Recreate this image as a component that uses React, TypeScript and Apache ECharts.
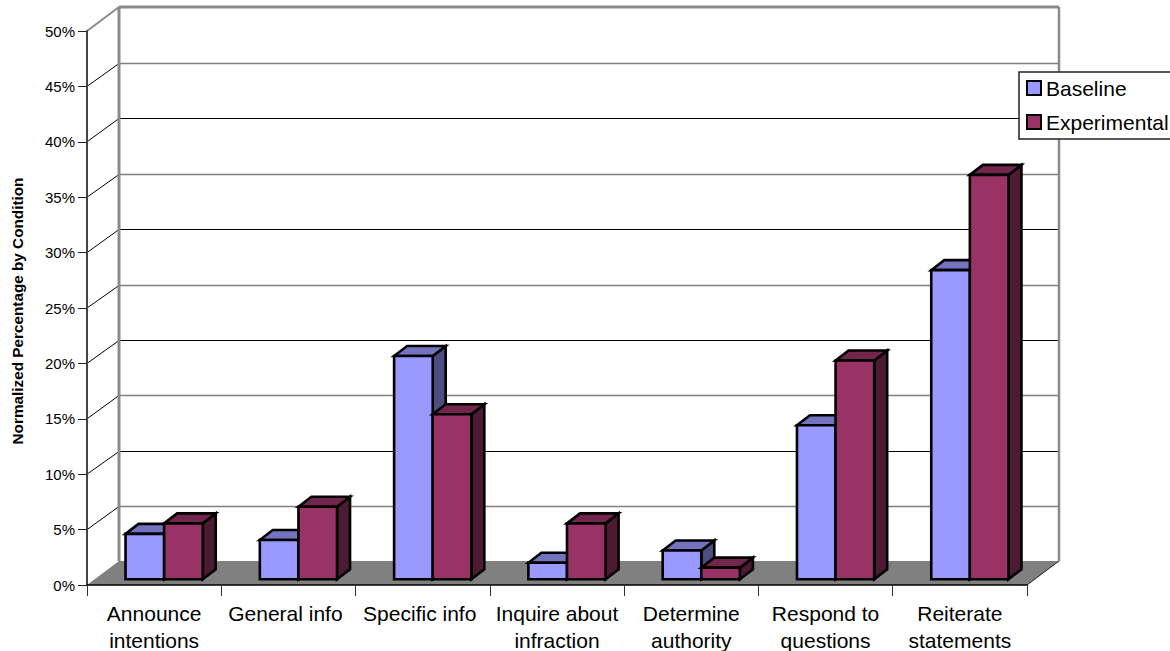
import React, { useEffect, useRef } from "react";
import * as echarts from "echarts";

const categories = [
  "Announce\nintentions",
  "General info",
  "Specific info",
  "Inquire about\ninfraction",
  "Determine\nauthority",
  "Respond to\nquestions",
  "Reiterate\nstatements",
];
const baseline = [4.1, 3.55, 20.15, 1.5, 2.6, 13.9, 27.9];
const experimental = [5.05, 6.55, 14.9, 5.05, 1.05, 19.75, 36.5];
const ticks = [0, 5, 10, 15, 20, 25, 30, 35, 40, 45, 50];

const WALL_DX = 32;
const WALL_DY = -24;
const BAR_DX = 13;
const BAR_DY = -10;
const BAR_SHIFT_X = 10;
const BAR_SHIFT_Y = -5.7;
const BAR_WIDTH_RATIO = 0.2875;
const WALL_GRAY = "#8a8a8a";

// Back wall, floor and the receding grid lines, one element group per tick.
function renderWall(params: any, api: any) {
  const t = api.value(1);
  const [, y] = api.coord([0, t]);
  const { x, width } = params.coordSys;
  const right = x + width;
  const children: any[] = [];
  const line = (x1: number, y1: number, x2: number, y2: number, stroke: string, lineWidth: number) => ({
    type: "line",
    shape: { x1, y1, x2, y2 },
    style: { stroke, lineWidth },
    silent: true,
  });
  if (t === 0) {
    children.push({
      type: "polygon",
      shape: {
        points: [
          [x, y],
          [x + WALL_DX, y + WALL_DY],
          [right + WALL_DX, y + WALL_DY],
          [right, y],
        ],
      },
      style: { fill: "#808080" },
      silent: true,
    });
    children.push(line(right, y, right + WALL_DX, y + WALL_DY, "#222", 1));
  } else if (t === 50) {
    const backY = y + WALL_DY;
    const floorY = api.coord([0, 0])[1] + WALL_DY;
    children.push(line(x + WALL_DX, backY, right + WALL_DX, backY, WALL_GRAY, 3));
    children.push(line(x + WALL_DX, backY, x + WALL_DX, floorY, WALL_GRAY, 3));
    children.push(line(right + WALL_DX, backY, right + WALL_DX, floorY, WALL_GRAY, 2.5));
    children.push(line(x, y, x + WALL_DX, backY, WALL_GRAY, 2));
  } else {
    // Snap the back-wall rule to a pixel row so it stays crisp.
    const backY = Math.round(y + WALL_DY + 0.6) + 0.5;
    const odd = t % 10 === 5;
    children.push(line(x + WALL_DX, backY, right + WALL_DX, backY, odd ? "#808080" : "#000", odd ? 1.5 : 1));
    children.push(line(x, y, x + WALL_DX, backY, "#000", 1));
  }
  return { type: "group", children };
}

// One extruded bar: side and top faces behind the front face.
function barRenderer(slot: number, front: string, top: string, side: string) {
  return (_params: any, api: any) => {
    const cat = api.value(0);
    const [cx, yTop] = api.coord([cat, api.value(1)]);
    const [, yZero] = api.coord([cat, 0]);
    const w = api.size([1, 0])[0] * BAR_WIDTH_RATIO;
    const x0 = cx + BAR_SHIFT_X + slot * w;
    const x1 = x0 + w;
    const y0 = yTop + BAR_SHIFT_Y;
    const y1 = yZero + BAR_SHIFT_Y;
    const border = { stroke: "#000", lineWidth: 2.6, lineJoin: "miter" };
    return {
      type: "group",
      children: [
        {
          type: "polygon",
          shape: { points: [[x1, y1], [x1 + BAR_DX, y1 + BAR_DY], [x1 + BAR_DX, y0 + BAR_DY], [x1, y0]] },
          style: { fill: side, ...border },
        },
        {
          type: "polygon",
          shape: { points: [[x0, y0], [x0 + BAR_DX, y0 + BAR_DY], [x1 + BAR_DX, y0 + BAR_DY], [x1, y0]] },
          style: { fill: top, ...border },
        },
        {
          type: "rect",
          shape: { x: x0, y: y0, width: w, height: y1 - y0 },
          style: { fill: front, ...border },
        },
      ],
    };
  };
}

export default function App() {
  const ref = useRef<HTMLDivElement>(null);
  useEffect(() => {
    const chart = echarts.init(ref.current!, undefined, { renderer: "svg" });
    chart.setOption({
      animation: false,
      backgroundColor: "#fff",
      textStyle: { fontFamily: "Liberation Sans" },
      grid: { left: 87, top: 31, width: 940, height: 554, outerBoundsMode: "none" },
      legend: {
        orient: "vertical",
        left: 1019,
        top: 72,
        data: ["Baseline", "Experimental"],
        icon: "rect",
        itemWidth: 14,
        itemHeight: 14,
        itemGap: 10,
        padding: [4, 12, 5, 7],
        backgroundColor: "#fff",
        borderColor: "#222",
        borderWidth: 1.5,
        textStyle: { fontSize: 21, color: "#000", lineHeight: 24 },
        z: 20,
      },
      xAxis: {
        type: "category",
        // Single-line labels sit a little left of their band centre.
        data: categories.map((c) =>
          c.includes("\n") ? c : { value: c, textStyle: { padding: [0, 6, 0, 0] } }
        ),
        z: 5,
        axisLine: { lineStyle: { color: "#000", width: 1.5 } },
        axisTick: { show: true, length: 11, lineStyle: { color: "#333", width: 1 } },
        axisLabel: {
          interval: 0,
          fontSize: 21,
          color: "#000",
          lineHeight: 27,
          margin: 14.5,
          hideOverlap: false,
        },
      },
      yAxis: {
        type: "value",
        min: 0,
        max: 50,
        interval: 5,
        z: 5,
        name: "Normalized Percentage by Condition",
        nameLocation: "middle",
        nameGap: 62,
        nameTextStyle: { fontSize: 15.3, fontWeight: "bold", color: "#000", padding: [0, 6, 0, 0] },
        axisLine: { show: true, lineStyle: { color: "#444", width: 2 } },
        axisTick: { show: true, length: 9, lineStyle: { color: "#222", width: 1 } },
        axisLabel: { formatter: "{value}%", fontSize: 15, color: "#000", margin: 12, padding: [4, 0, 0, 0] },
        splitLine: { show: false },
      },
      series: [
        {
          name: "wall",
          type: "custom",
          z: 1,
          silent: true,
          clip: false,
          renderItem: renderWall,
          data: ticks.map((t) => [0, t]),
          encode: { x: 0, y: 1 },
        },
        {
          name: "Baseline",
          type: "custom",
          z: 3,
          clip: false,
          itemStyle: { color: "#9999FF", borderColor: "#000", borderWidth: 2 },
          renderItem: barRenderer(-1, "#9999FF", "#7373BF", "#4D4D80"),
          data: baseline.map((v, i) => [i, v]),
          encode: { x: 0, y: 1 },
        },
        {
          name: "Experimental",
          type: "custom",
          z: 4,
          clip: false,
          itemStyle: { color: "#993366", borderColor: "#000", borderWidth: 2 },
          renderItem: barRenderer(0, "#993366", "#73264D", "#4D1A33"),
          data: experimental.map((v, i) => [i, v]),
          encode: { x: 0, y: 1 },
        },
      ],
    });
    return () => chart.dispose();
  }, []);
  return (
    <div
      ref={ref}
      style={{ position: "absolute", left: 0, top: 0, width: 1170, height: 651 }}
    />
  );
}
